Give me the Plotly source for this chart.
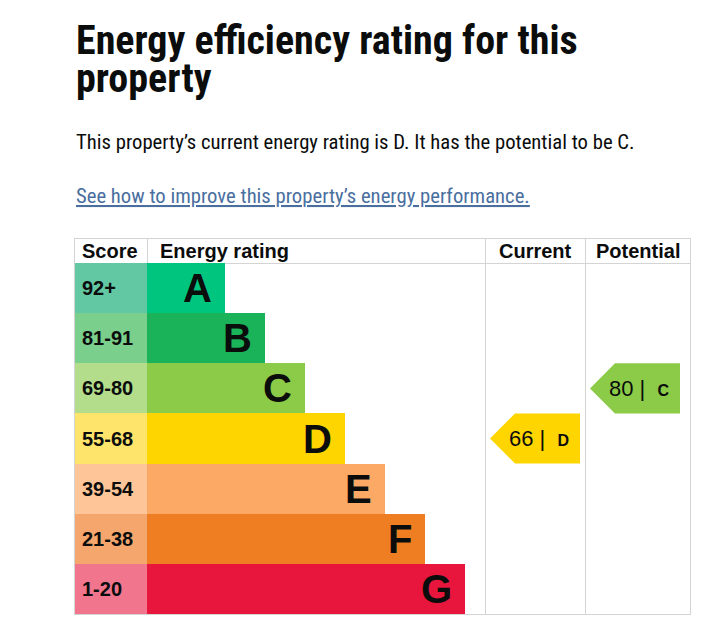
import plotly.graph_objects as go

# ---------------- data ----------------
bands = ["A", "B", "C", "D", "E", "F", "G"]
score_ranges = ["92+", "81-91", "69-80", "55-68", "39-54", "21-38", "1-20"]
bar_lengths = [78, 118, 158, 198, 238, 278, 318]   # rating bar lengths (x-axis units)
band_colors = ["#00c57e", "#1bb35a", "#8bcb47", "#ffd500", "#fca965", "#ef7e23", "#e8163d"]
score_colors = ["#62c7a3", "#79cf8b", "#b4dd8b", "#ffe46b", "#fec598", "#f5a66d", "#f1758d"]
columns = ["Score", "Energy rating", "Current", "Potential"]
current_score, current_band = 66, "D"
potential_score, potential_band = 80, "C"

title_lines = ["Energy efficiency rating for this", "property"]
summary = "This property\u2019s current energy rating is D. It has the potential to be C."
link_text = "See how to improve this property\u2019s energy performance."

# ---------------- layout geometry ----------------
# the page body has an 8px margin, so the figure starts at (8, 8)
OFF = 8
W, H = 727 - OFF, 636 - OFF
PLOT_L, PLOT_R, PLOT_T, PLOT_B = 75 - OFF, 690 - OFF, 239 - OFF, 614 - OFF
SCORE_W = 72
COL_CUR = (410, 510)
COL_POT = (510, 615)
Y_TOP = -0.98  # header top
GRID = "#d4d4d4"
TABLE_FONT = "Liberation Sans, Arial, sans-serif"
PAGE_FONT = "Roboto Condensed, Liberation Sans Narrow, Arial Narrow, Liberation Sans, sans-serif"

def paper_y(py):
    """page pixel y -> paper coordinate"""
    return (PLOT_B - (py - OFF)) / (PLOT_B - PLOT_T)

ys = list(range(len(bands)))
fig = go.Figure()

# score cells
fig.add_trace(go.Bar(
    y=ys, x=[SCORE_W] * len(bands), base=0, orientation="h",
    marker=dict(color=score_colors, line=dict(width=0)), width=1,
    hoverinfo="skip", showlegend=False))
# rating bars
fig.add_trace(go.Bar(
    y=ys, x=bar_lengths, base=SCORE_W, orientation="h",
    marker=dict(color=band_colors, line=dict(width=0)), width=1,
    hoverinfo="skip", showlegend=False))

# arrows for current / potential
def arrow(col, score, band):
    i = bands.index(band)
    tip = col[0] + 5
    sh = tip + 25
    right = tip + 90
    xs = [tip, sh, right, right, sh, tip]
    yy = [i, i - 0.5, i - 0.5, i + 0.5, i + 0.5, i]
    fig.add_trace(go.Scatter(x=xs, y=yy, fill="toself", mode="lines",
                             line=dict(width=0), fillcolor=band_colors[i],
                             hoverinfo="skip", showlegend=False))
    fig.add_annotation(x=tip + 49, y=i, xref="x", yref="y", showarrow=False,
                       text=f"{score} |  <span style='font-size:16px'><b>{band}</b></span>",
                       font=dict(family=TABLE_FONT, size=22, color="#0b0c0c"),
                       xanchor="center", yanchor="middle")

arrow(COL_CUR, current_score, current_band)
arrow(COL_POT, potential_score, potential_band)

# row labels
for i, (b, s, L) in enumerate(zip(bands, score_ranges, bar_lengths)):
    fig.add_annotation(x=0, y=i, xref="x", yref="y", text=f"<b>{s}</b>", showarrow=False,
                       xanchor="left", yanchor="middle", xshift=5,
                       font=dict(family=TABLE_FONT, size=20, color="#0b0c0c"))
    fig.add_annotation(x=SCORE_W + L, y=i, xref="x", yref="y", text=f"<b>{b}</b>",
                       showarrow=False, xanchor="right", yanchor="middle", xshift=-11,
                       font=dict(family=TABLE_FONT, size=40, color="#0b0c0c"))

# header
hy = (Y_TOP - 0.5) / 2
head_pos = [(5, "left"), (SCORE_W + 11, "left"),
            ((COL_CUR[0] + COL_CUR[1]) / 2, "center"), ((COL_POT[0] + COL_POT[1]) / 2, "center")]
for name, (x, anc) in zip(columns, head_pos):
    fig.add_annotation(x=x, y=hy, xref="x", yref="y", text=f"<b>{name}</b>", showarrow=False,
                       xanchor=anc, yanchor="middle",
                       font=dict(family=TABLE_FONT, size=20, color="#0b0c0c"))

# page texts
fig.add_annotation(x=0, y=paper_y(40), xref="paper", yref="paper", text=f"<b>{title_lines[0]}</b>",
                   showarrow=False, xanchor="left", yanchor="middle", xshift=-1,
                   font=dict(family=PAGE_FONT, size=40, color="#0b0c0c"))
fig.add_annotation(x=0, y=paper_y(79), xref="paper", yref="paper", text=f"<b>{title_lines[1]}</b>",
                   showarrow=False, xanchor="left", yanchor="middle", xshift=-1,
                   font=dict(family=PAGE_FONT, size=40, color="#0b0c0c"))
fig.add_annotation(x=0, y=paper_y(142), xref="paper", yref="paper", text=summary,
                   showarrow=False, xanchor="left", yanchor="middle", xshift=-1,
                   font=dict(family=PAGE_FONT, size=20.7, color="#0b0c0c"))
fig.add_annotation(x=0, y=paper_y(196), xref="paper", yref="paper", text=f"<u>{link_text}</u>",
                   showarrow=False, xanchor="left", yanchor="middle", xshift=-1,
                   font=dict(family=PAGE_FONT, size=20.7, color="#4a6f9f"))

fig.update_layout(
    width=W, height=H, paper_bgcolor="white", plot_bgcolor="white",
    margin=dict(l=PLOT_L, r=W - PLOT_R, t=PLOT_T, b=H - PLOT_B, pad=0),
    bargap=0, barmode="overlay",
)
fig.update_xaxes(range=[0, 615], tickvals=[SCORE_W, COL_CUR[0], COL_POT[0]], showgrid=True,
                 gridcolor=GRID, gridwidth=1, showticklabels=False, ticks="", zeroline=False,
                 showline=True, mirror=True, linecolor=GRID, linewidth=1, fixedrange=True)
fig.update_yaxes(range=[6.5, Y_TOP], tickvals=[-0.5], showgrid=True, gridcolor=GRID, gridwidth=1,
                 showticklabels=False, ticks="", zeroline=False,
                 showline=True, mirror=True, linecolor=GRID, linewidth=1, fixedrange=True)

fig.write_html("out.html", config={"displayModeBar": False})
